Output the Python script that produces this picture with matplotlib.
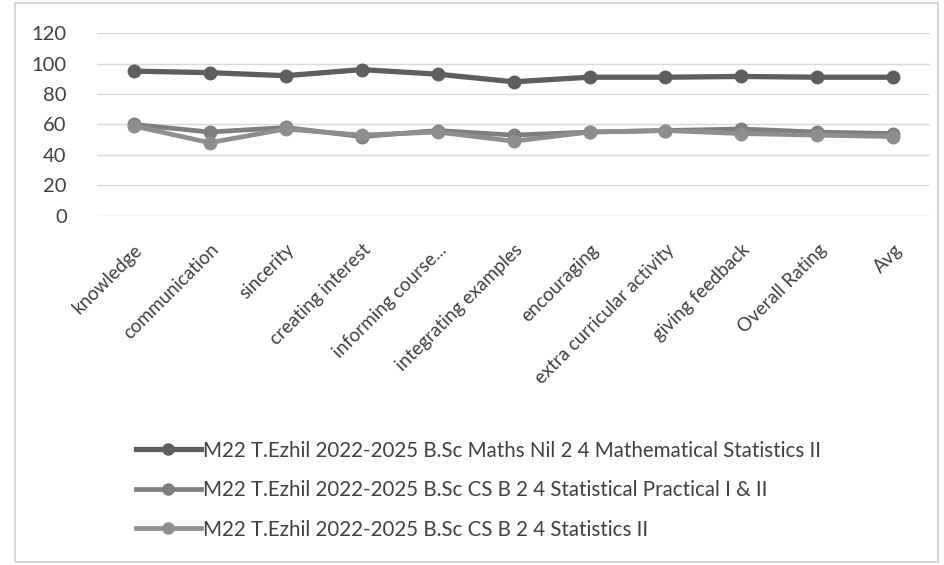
import matplotlib
matplotlib.use("Agg")
import matplotlib.pyplot as plt
from matplotlib.patches import Rectangle

categories = ["knowledge", "communication", "sincerity", "creating interest",
              "informing course...", "integrating examples", "encouraging",
              "extra curricular activity", "giving feedback", "Overall Rating", "Avg"]
maths_stats = [95, 94, 92, 96, 93, 88, 91, 91, 91.5, 91, 91]
practical = [60, 55, 58, 52, 56, 53, 55, 56, 57, 55, 54]
statistics2 = [59, 48, 57, 53, 55, 49, 55, 56, 54, 53, 52]
series_names = [
    "M22 T.Ezhil 2022-2025 B.Sc Maths Nil 2 4 Mathematical Statistics II",
    "M22 T.Ezhil 2022-2025 B.Sc CS B 2 4 Statistical Practical I & II",
    "M22 T.Ezhil 2022-2025 B.Sc CS B 2 4 Statistics II",
]
yticks = [0, 20, 40, 60, 80, 100, 120]

plt.rcParams['font.family'] = ['Lato', 'DejaVu Sans']

fig = plt.figure(figsize=(9.44, 5.65), dpi=100)
fig.patch.set_facecolor("white")
ax = fig.add_axes([0.103, 0.618, 0.882, 0.3235])

x = list(range(len(categories)))
colors = ["#5e5e5e", "#7e7e7e", "#8e8e8e"]
lws = [3.8, 3.4, 3.4]
handles = []
for vals, c, lw, name in [(maths_stats, colors[0], lws[0], series_names[0]),
                           (practical, colors[1], lws[1], series_names[1]),
                           (statistics2, colors[2], lws[2], series_names[2])]:
    h, = ax.plot(x, vals, color=c, lw=lw, marker="o", markersize=9,
                 markerfacecolor=c, markeredgecolor=c, label=name, zorder=3)
    handles.append(h)

ax.set_ylim(0, 120)
ax.set_xlim(-0.48, len(categories) - 0.52)
ax.set_yticks(yticks)
ax.set_yticklabels([str(v) for v in yticks], fontsize=14.5, color="#404040")
ax.set_xticks(x)
ax.set_xticklabels(categories, rotation=45, ha="right", rotation_mode="anchor",
                   fontsize=13.5, color="#404040")
ax.tick_params(axis="both", length=0)
ax.tick_params(axis="y", pad=22)
ax.tick_params(axis="x", pad=18)
ax.grid(axis="y", color="#d9d9d9", lw=1)
ax.set_axisbelow(True)
for s in ax.spines.values():
    s.set_visible(False)

leg = fig.legend(handles=handles, loc="upper left", bbox_to_anchor=(0.124, 0.253),
                 frameon=False, fontsize=14.8, handlelength=3.2, handletextpad=0.1,
                 labelspacing=0.95, labelcolor="#404040")
for lh in leg.get_lines():
    lh.set_markersize(8)

fig.patches.append(Rectangle((0.016, 0.005), 0.978, 0.99, transform=fig.transFigure,
                             fill=False, edgecolor="#d0d0d0", lw=1.2))

fig.savefig("out.png", dpi=100, facecolor="white")
